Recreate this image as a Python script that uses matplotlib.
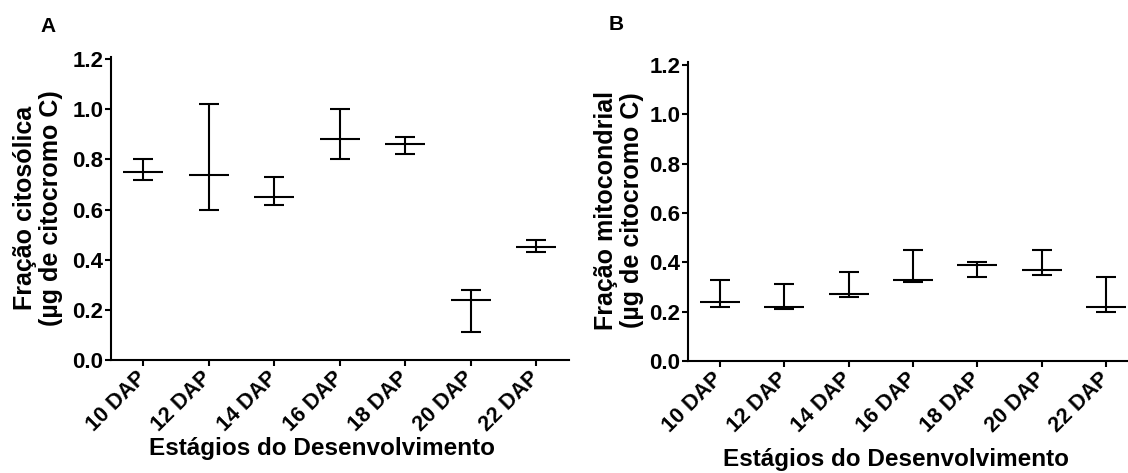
import matplotlib
matplotlib.use("Agg")
import matplotlib.pyplot as plt
import numpy as np

plt.rcParams['font.family'] = ['Liberation Sans', 'DejaVu Sans']
plt.rcParams['font.weight'] = 'bold'

categories = ["10 DAP", "12 DAP", "14 DAP", "16 DAP", "18 DAP", "20 DAP", "22 DAP"]

# Panel A - cytosolic fraction
a_mean = [0.75, 0.74, 0.65, 0.88, 0.86, 0.24, 0.45]
a_low  = [0.72, 0.60, 0.62, 0.80, 0.82, 0.11, 0.43]
a_high = [0.80, 1.02, 0.73, 1.00, 0.89, 0.28, 0.48]

# Panel B - mitochondrial fraction
b_mean = [0.24, 0.22, 0.27, 0.33, 0.39, 0.37, 0.22]
b_low  = [0.22, 0.21, 0.26, 0.32, 0.34, 0.35, 0.20]
b_high = [0.33, 0.31, 0.36, 0.45, 0.40, 0.45, 0.34]

yticks = [0.0, 0.2, 0.4, 0.6, 0.8, 1.0, 1.2]

W, H = 1128, 473
fig = plt.figure(figsize=(W / 100, H / 100), dpi=100)

lw = 1.5

def panel(rect, mean, low, high):
    ax = fig.add_axes(rect)
    x = np.arange(len(categories))
    mean = np.array(mean); low = np.array(low); high = np.array(high)
    ax.errorbar(x, mean, yerr=[mean - low, high - mean], fmt='none',
                ecolor='black', elinewidth=lw, capsize=7.5, capthick=lw)
    ax.plot(x, mean, linestyle='none', marker='_', markersize=29,
            markeredgewidth=lw, color='black')
    ax.set_xlim(-0.5, 6.5)
    ax.set_ylim(0, 1.21)
    ax.set_yticks(yticks)
    ax.set_yticklabels([f"{v:.1f}" for v in yticks])
    ax.set_xticks(x)
    ax.set_xticklabels(categories, rotation=45, ha='right', va='center',
                       rotation_mode='anchor')
    for s in ['top', 'right']:
        ax.spines[s].set_visible(False)
    for s in ['left', 'bottom']:
        ax.spines[s].set_linewidth(lw)
    ax.tick_params(axis='both', direction='out', length=4, width=lw, pad=1)
    ax.tick_params(axis='y', labelsize=16)
    ax.tick_params(axis='x', labelsize=15.5, pad=7)
    for t in ax.get_xticklabels() + ax.get_yticklabels():
        t.set_fontweight('bold')
    return ax

axA = panel([110.5 / W, 1 - 360 / H, 458.5 / W, 303.3 / H], a_mean, a_low, a_high)
axB = panel([687.5 / W, 1 - 361 / H, 451 / W, 298.7 / H], b_mean, b_low, b_high)

fig.text(48 / W, 1 - 27 / H, "A", fontsize=15, fontweight='bold', ha='center', va='center')
fig.text(616 / W, 1 - 25 / H, "B", fontsize=15, fontweight='bold', ha='center', va='center')

fig.text(38 / W, 1 - 208 / H, "Fração citosólica\n(µg de citocromo C)", rotation=90,
         fontsize=18, fontweight='bold', ha='center', va='center', multialignment='center',
         linespacing=1.15)
fig.text(619 / W, 1 - 210 / H, "Fração mitocondrial\n(µg de citocromo C)", rotation=90,
         fontsize=18, fontweight='bold', ha='center', va='center', multialignment='center',
         linespacing=1.15)

fig.text(322 / W, 1 - 448 / H, "Estágios do Desenvolvimento", fontsize=17.5,
         fontweight='bold', ha='center', va='center')
fig.text(896 / W, 1 - 459 / H, "Estágios do Desenvolvimento", fontsize=17.5,
         fontweight='bold', ha='center', va='center')

fig.savefig("out.png", dpi=100)
